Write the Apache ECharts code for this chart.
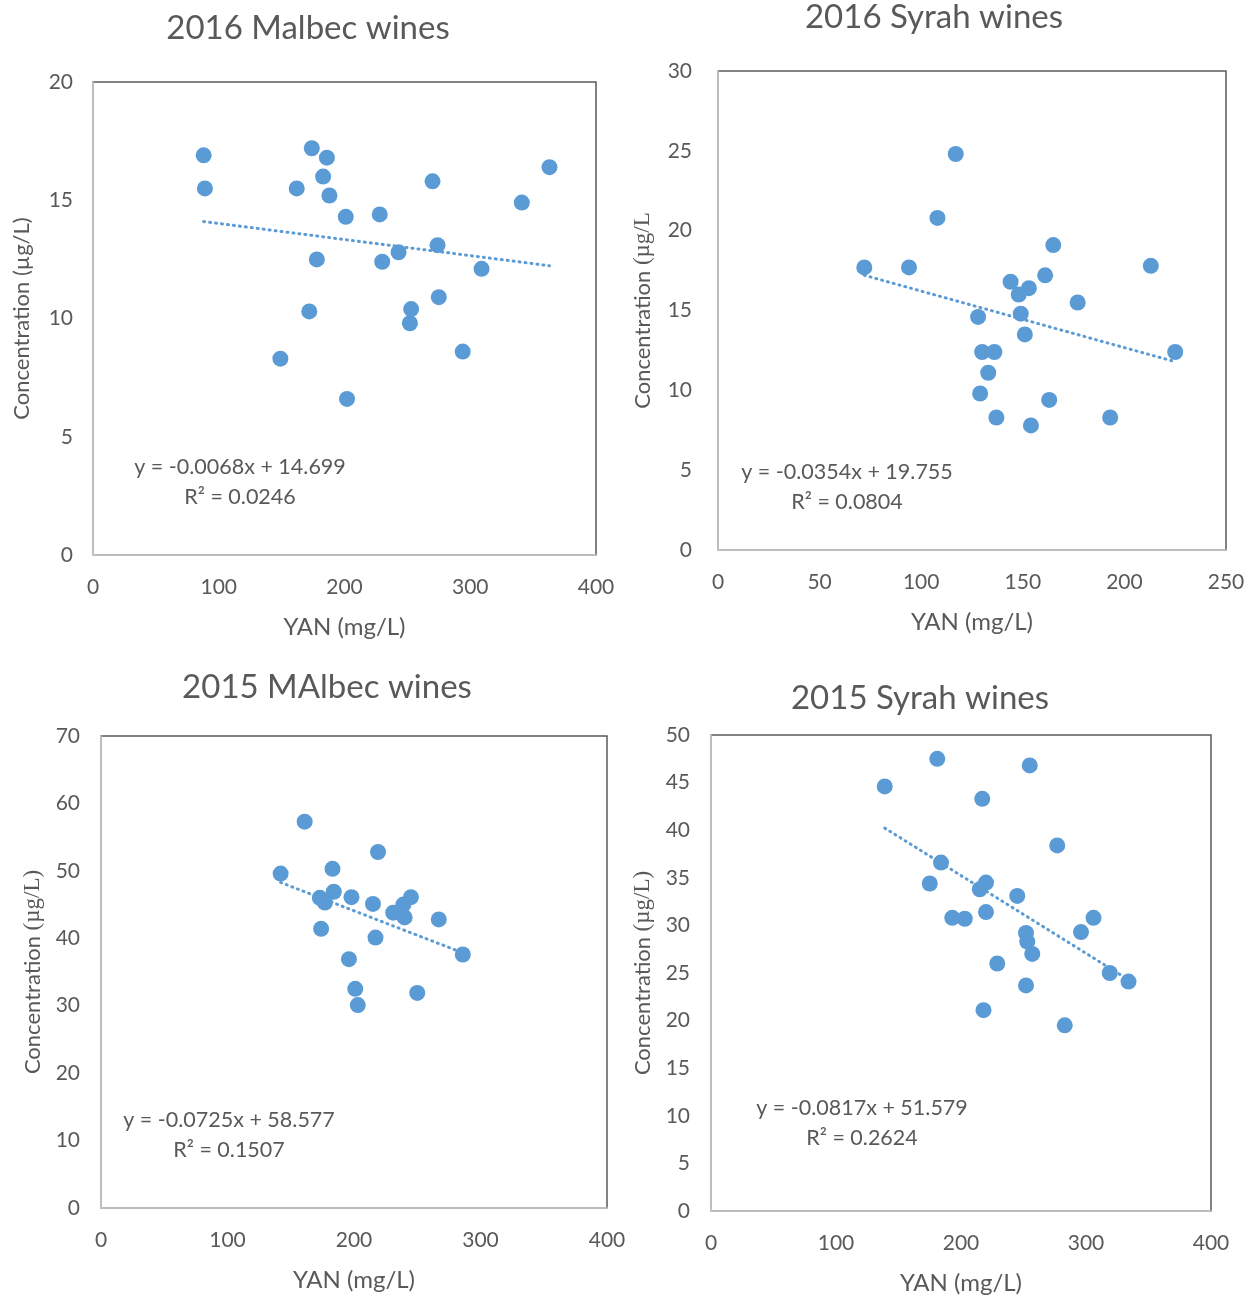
<!DOCTYPE html>
<html>
<head>
<meta charset="utf-8">
<title>YAN vs concentration</title>
<script src="https://cdn.jsdelivr.net/npm/echarts@6/dist/echarts.min.js"></script>
<style>
  html, body { margin: 0; padding: 0; background: #fff; }
  #chart { width: 1250px; height: 1297px; }
</style>
</head>
<body>
<div id="chart"></div>
<script>
// ---- data ----
var titles = ['2016 Malbec wines', '2016 Syrah wines', '2015 MAlbec wines', '2015 Syrah wines'];
var yNames = ['Concentration (µg/L)', 'Concentration (µg/L', 'Concentration (µg/L)', 'Concentration (µg/L)'];

var malbec16Yan  = [88, 89, 174, 186, 183, 162, 188, 201, 228, 270, 341, 363, 274, 243, 230, 178, 309, 275, 253, 252, 172, 149, 294, 202];
var malbec16Conc = [16.9, 15.5, 17.2, 16.8, 16.0, 15.5, 15.2, 14.3, 14.4, 15.8, 14.9, 16.4, 13.1, 12.8, 12.4, 12.5, 12.1, 10.9, 10.4, 9.8, 10.3, 8.3, 8.6, 6.6];

var syrah16Yan  = [72, 94, 108, 117, 165, 213, 144, 153, 161, 148, 177, 128, 149, 151, 130, 136, 225, 133, 129, 163, 137, 193, 154];
var syrah16Conc = [17.7, 17.7, 20.8, 24.8, 19.1, 17.8, 16.8, 16.4, 17.2, 16.0, 15.5, 14.6, 14.8, 13.5, 12.4, 12.4, 12.4, 11.1, 9.8, 9.4, 8.3, 8.3, 7.8];

var malbec15Yan  = [161, 219, 142, 183, 184, 198, 173, 177, 215, 245, 239, 231, 240, 267, 174, 217, 286, 196, 201, 250, 203];
var malbec15Conc = [57.3, 52.8, 49.6, 50.3, 46.9, 46.1, 46.0, 45.3, 45.1, 46.1, 45.0, 43.8, 43.1, 42.8, 41.4, 40.1, 37.6, 36.9, 32.5, 31.9, 30.1];

var syrah15Yan  = [181, 255, 139, 217, 277, 184, 175, 220, 215, 245, 193, 203, 220, 306, 296, 252, 253, 257, 319, 334, 229, 252, 218, 283];
var syrah15Conc = [47.5, 46.8, 44.6, 43.3, 38.4, 36.6, 34.4, 34.5, 33.8, 33.1, 30.8, 30.7, 31.4, 30.8, 29.3, 29.2, 28.3, 27.0, 25.0, 24.1, 26.0, 23.7, 21.1, 19.5];

// linear trendlines shown on the chart
var slopes     = [-0.0068, -0.0354, -0.0725, -0.0817];
var intercepts = [14.699, 19.755, 58.577, 51.579];
var rSquared   = ['0.0246', '0.0804', '0.1507', '0.2624'];

// axis ranges
var xMax = [400, 250, 400, 400];
var xStep = [100, 50, 100, 100];
var yMax = [20, 30, 70, 50];
var yStep = [5, 5, 10, 5];

var xs = [malbec16Yan, syrah16Yan, malbec15Yan, syrah15Yan];
var ys = [malbec16Conc, syrah16Conc, malbec15Conc, syrah15Conc];

// ---- layout ----
var grids = [
  { left: 93,  top: 82,  width: 503, height: 473 },
  { left: 718, top: 71,  width: 508, height: 479 },
  { left: 101, top: 736, width: 506, height: 472 },
  { left: 711, top: 735, width: 500, height: 476 }
];
var titlePos = [[308, 12], [934, 1], [327, 671], [920, 682]];
var eqPos = [[240, 482], [847, 487], [229, 1135], [862, 1123]];
var yNameGap = [60, 64, 57, 57];
var yLabelMargin = [20, 26, 21, 21];

var blue = '#5B9BD5';
var textGray = '#595959';
var font = 'Lato, "Open Sans", sans-serif';

var option = {
  backgroundColor: '#fff',
  animation: false,
  textStyle: { fontFamily: font, color: textGray },
  title: [],
  grid: [],
  xAxis: [],
  yAxis: [],
  series: [],
  graphic: []
};

for (var i = 0; i < 4; i++) {
  option.title.push({
    text: titles[i],
    left: titlePos[i][0],
    top: titlePos[i][1],
    padding: 0,
    textAlign: 'center',
    textStyle: { fontFamily: font, fontSize: 33, fontWeight: 'normal', color: textGray }
  });

  option.grid.push({
    left: grids[i].left, top: grids[i].top,
    width: grids[i].width, height: grids[i].height,
    show: true, borderColor: '#595959', borderWidth: 1.5,
    containLabel: false
  });

  option.xAxis.push({
    type: 'value', gridIndex: i,
    min: 0, max: xMax[i], interval: xStep[i],
    name: 'YAN (mg/L)', nameLocation: 'middle', nameGap: 60,
    nameTextStyle: { fontFamily: font, fontSize: 24, color: textGray },
    axisLine: { show: true, lineStyle: { color: '#d0d0d0', width: 1.5 } },
    axisTick: { show: false },
    splitLine: { show: false },
    axisLabel: { fontFamily: font, fontSize: 21, color: textGray, margin: 22 }
  });

  var nameOpt;
  if (i === 0) {
    nameOpt = { fontFamily: font, fontSize: 22, color: textGray };
  } else {
    // these panels mix a serif font into the unit
    nameOpt = {
      fontFamily: font, fontSize: 22, color: textGray,
      rich: {
        s: { fontFamily: font, fontSize: 22, color: textGray },
        f: { fontFamily: '"Liberation Serif", serif', fontSize: 23, color: textGray }
      }
    };
  }
  var yName = (i === 0) ? yNames[i] : '{s|Concentration }{f|' + yNames[i].slice('Concentration '.length) + '}';

  option.yAxis.push({
    type: 'value', gridIndex: i,
    min: 0, max: yMax[i], interval: yStep[i],
    name: yName, nameLocation: 'middle', nameGap: yNameGap[i], nameRotate: 90,
    nameTextStyle: nameOpt,
    axisLine: { show: true, lineStyle: { color: '#d0d0d0', width: 1.5 } },
    axisTick: { show: false },
    splitLine: { show: false },
    axisLabel: { fontFamily: font, fontSize: 21, color: textGray, margin: yLabelMargin[i] }
  });

  var pts = [];
  for (var k = 0; k < xs[i].length; k++) pts.push([xs[i][k], ys[i][k]]);
  option.series.push({
    type: 'scatter', xAxisIndex: i, yAxisIndex: i,
    data: pts, symbolSize: 16,
    itemStyle: { color: blue, opacity: 1 },
    z: 3
  });

  // trendline over the data's x span
  var x0 = Math.min.apply(null, xs[i]);
  var x1 = Math.max.apply(null, xs[i]);
  option.series.push({
    type: 'line', xAxisIndex: i, yAxisIndex: i,
    data: [[x0, slopes[i] * x0 + intercepts[i]], [x1, slopes[i] * x1 + intercepts[i]]],
    symbol: 'none',
    lineStyle: { color: blue, width: 3, type: [1, 5], cap: 'round' },
    z: 2
  });

  var sign = intercepts[i] >= 0 ? ' + ' : ' - ';
  option.graphic.push({
    type: 'text',
    x: eqPos[i][0], y: eqPos[i][1],
    style: {
      text: 'y = ' + slopes[i] + 'x' + sign + Math.abs(intercepts[i]).toFixed(3) + '\nR² = ' + rSquared[i],
      fontFamily: font, fontSize: 21.5, fill: textGray,
      align: 'center', verticalAlign: 'middle', lineHeight: 30
    },
    z: 10
  });
}

var chart = echarts.init(document.getElementById('chart'));
chart.setOption(option);
</script>
</body>
</html>
